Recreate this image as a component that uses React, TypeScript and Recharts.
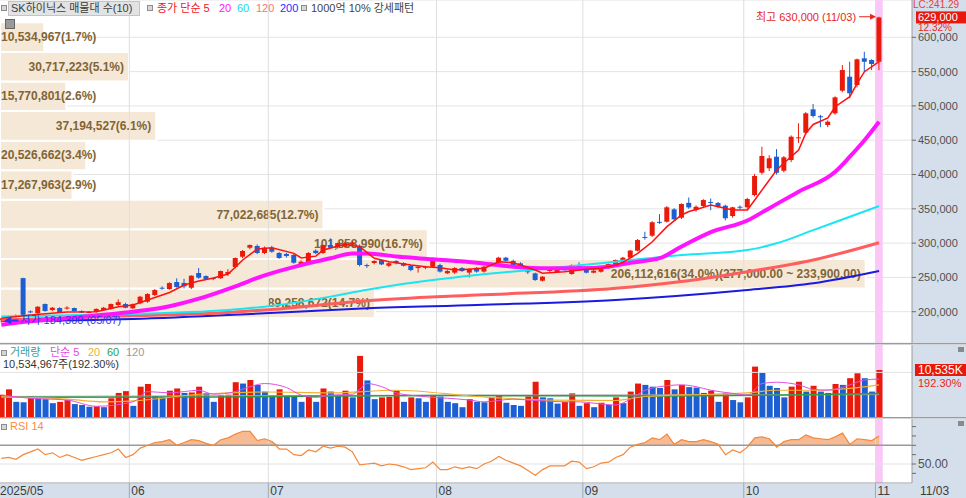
import React from "react";
import {
  ComposedChart,
  Bar,
  Line,
  Area,
  XAxis,
  YAxis,
  CartesianGrid,
  ReferenceLine,
  ReferenceArea,
  ReferenceDot,
  Cell,
} from "recharts";

// daily candles 2025/05/07 .. 2025/11/03, prices in 1,000 KRW
const opens = [
  188, 190, 193, 249, 200.5, 197.7, 211.2, 202.5, 205.4, 205,
  205.4, 201, 199, 199.6, 202.5, 204, 209.8, 211.2, 205, 212.3,
  214.6, 224.3, 235, 233, 243.3, 242, 235, 256.4, 252, 249,
  248.8, 255, 265.2, 280.2, 293.3, 295.8, 285.6, 293.3, 285.6, 284.2,
  282.7, 268, 272.5, 289, 285.6, 297.2, 294, 295, 298, 296.2,
  268, 271, 275, 267, 274, 271, 267, 263.7, 264.5, 265.6,
  268.1, 256, 257, 263.7, 257, 264, 258.5, 268, 272, 278.8,
  274, 270.5, 259, 255.9, 245.2, 260, 257.9, 262, 255, 267,
  261.8, 256.9, 258.3, 264.7, 268.1, 272, 278.8, 289, 309, 310.8,
  331, 331.2, 349.3, 337, 358.7, 348.2, 354.1, 360, 358.5, 354.5,
  339.5, 353, 352.2, 370.1, 402.6, 409.1, 426, 405.5, 421.1, 453,
  460.9, 495, 485, 472.2, 489.2, 522.2, 542.6, 530.5, 569.4, 566.9,
  564.4,
];
const highs = [
  191, 194, 196, 249.5, 202, 208, 212, 207, 206.5, 208,
  206, 202, 201, 205, 207, 212, 218, 213, 212, 223,
  227, 233, 237, 243, 248.7, 248, 253, 263.7, 253, 250,
  260, 262, 279, 290, 298, 298, 295, 296, 287, 286,
  284, 275, 287, 291, 298, 307, 301, 302, 303, 298,
  270, 275, 276, 272, 275, 272, 268, 266, 267, 276,
  270, 261, 265, 265, 263, 265, 267, 272, 280, 280,
  276, 272, 262, 257, 252, 262, 263, 263, 269, 272,
  263, 261, 266, 270, 276, 280, 290, 306, 316.6, 332,
  342.4, 354, 351, 358, 366.5, 355, 364, 365, 360, 356,
  353, 355, 366, 401, 440.5, 428, 437, 427, 457, 474.8,
  491, 502.8, 487, 479, 514, 559.6, 564.4, 569, 579, 568,
  630,
];
const lows = [
  184.3, 189, 192, 194, 198, 197, 200, 201, 199, 203,
  200, 198, 198, 199, 202, 203, 208, 205, 204, 211,
  213, 223, 232, 232, 235, 234, 233, 248, 246, 246,
  248, 252, 263, 278, 291, 284, 284, 286, 277, 279,
  270, 266, 271, 284, 284, 292, 292, 293, 296, 266,
  264, 269, 268, 265, 269, 266, 259, 257, 262, 264,
  257, 255, 255, 258, 250, 257, 257, 266, 271, 273,
  267, 262, 255, 245, 244, 258, 257, 260, 254, 264,
  256, 256, 257, 263, 267, 271, 278, 288, 305, 309,
  328, 330, 333, 335, 350, 346, 352, 348, 351, 333,
  337, 349, 350, 368, 400, 405, 400, 403, 418, 446,
  458, 483, 469, 469, 487, 520, 511, 527, 550, 552.3,
  552,
];
const closes = [
  190, 193, 194, 195.5, 199.5, 207.3, 201, 205.8, 199.6, 206,
  201, 198.6, 199.6, 204, 205.8, 211.2, 214, 205.8, 211, 221.9,
  225.8, 231.6, 234, 241.8, 236, 237, 252.5, 249.6, 247.7, 248,
  259.3, 258, 278.3, 288.5, 297.2, 285.6, 293.3, 287.5, 278.3, 281.3,
  271.4, 272.9, 285.6, 285.5, 297.2, 294.3, 300, 300, 301, 268.1,
  266.5, 273.9, 269, 270.7, 271, 267, 260.8, 265.6, 265.6, 274,
  258.5, 259.3, 263.7, 259.3, 262.3, 258.5, 265.6, 269.5, 278.8, 274.3,
  268.1, 263.3, 258.3, 246.2, 251.1, 260.8, 261.8, 261.5, 268.1, 266.6,
  256.9, 259.8, 264.7, 269.5, 275.4, 278.8, 289.1, 304.5, 307.9, 330.4,
  330.4, 352.2, 334.7, 357, 352, 353, 362.8, 358.9, 353.1, 336.2,
  352.2, 352.2, 364.3, 397.8, 427, 423.6, 402.6, 425, 455.1, 454.2,
  489.2, 485.3, 483.4, 477, 512.5, 552.3, 518.4, 567.9, 564.4, 561.1,
  629,
];
// volume, million shares
const volumes = [
  5.0, 6.2, 3.4, 3.3, 4.7, 4.2, 4.0, 3.1, 3.4, 3.8,
  2.9, 2.7, 2.3, 2.4, 2.2, 4.2, 5.4, 5.8, 2.5, 6.8,
  7.4, 4.7, 4.6, 5.9, 6.4, 5.4, 5.5, 6.8, 5.4, 3.4,
  4.9, 5.0, 7.8, 7.5, 8.3, 7.2, 5.7, 4.9, 6.2, 4.9,
  4.8, 3.4, 4.7, 3.4, 6.4, 5.7, 4.7, 5.9, 4.4, 13.7,
  8.2, 4.0, 4.4, 4.5, 5.9, 3.4, 4.4, 4.2, 3.4, 4.7,
  4.6, 3.4, 3.1, 2.2, 4.0, 3.4, 3.3, 4.4, 4.7, 3.2,
  2.7, 2.5, 4.6, 7.9, 4.4, 4.2, 3.0, 3.4, 5.3, 2.5,
  3.1, 2.2, 3.2, 2.7, 4.4, 3.1, 5.7, 7.5, 7.2, 6.8,
  6.5, 8.3, 6.2, 7.2, 6.7, 6.6, 5.4, 5.9, 3.4, 5.4,
  3.8, 3.3, 4.4, 11.3, 9.9, 7.0, 6.5, 4.4, 6.8, 7.9,
  5.7, 7.0, 5.7, 5.4, 7.4, 7.2, 8.7, 9.8, 8.7, 5.7,
  10.535,
];
const rsi14 = [
  56, 57, 55, 60, 63, 66, 60, 62, 57, 60,
  57, 54, 56, 58, 60, 62, 66, 57, 60, 67,
  70, 73, 74, 76, 70, 73, 76, 75, 72, 70,
  76, 78, 82, 85, 85, 75, 77, 74, 66, 66,
  60, 59, 65, 63, 69, 67, 69, 68, 63, 49,
  50, 51, 48, 50, 49, 47, 44, 45, 46, 52,
  44, 44, 47, 45, 47, 45, 50, 53, 58, 54,
  51, 48, 43, 38, 44, 48, 48, 48, 53, 52,
  45, 47, 51, 52, 57, 60, 68, 71, 73, 78,
  76, 82, 71, 76, 74, 74, 76, 74, 71, 60,
  65, 62, 68, 78, 79, 77, 68, 74, 76, 76,
  81, 78, 77, 76, 79, 83, 71, 77, 76, 75,
  80,
];

// moving averages: [candle index, value]
const ma5Pts = [
  [0, 190.4], [4, 195.2], [9, 199.6], [13, 200], [16, 207.3], [18, 209.8], [20, 217],
  [23, 228], [25, 238.9], [27, 244.8], [29, 249.1], [31, 255], [33, 275.4], [35, 291.4],
  [37, 293.3], [40, 285.1], [41, 278.3], [43, 281], [44, 290], [47, 298.3], [49, 294.8],
  [51, 277.8], [53, 272.9], [56, 268.1], [58, 265.6], [60, 264.2], [62, 260.8], [66, 263.3],
  [68, 272.9], [70, 271.4], [73, 260.8], [74, 256], [77, 258.3], [80, 261.8], [82, 263.3],
  [84, 268], [85, 272], [87, 285], [89, 302], [91, 324], [93, 341], [94, 346], [95, 349],
  [97, 355.5], [100, 348.3], [102, 348.3], [103, 362.8], [105, 392], [106, 406.6],
  [107, 416.8], [109, 435.8], [110, 460.5], [111, 473], [113, 482.4], [114, 498.8],
  [116, 513.4], [117, 532.9], [118, 549.9], [120, 564.4],
];
const ma20Pts = [
  [0, 181], [4, 186], [9, 190.5], [14, 195.5], [18, 200], [23, 208], [27, 219], [32, 237],
  [36, 253], [41, 268], [45, 278], [48, 285], [50, 285], [54, 280.5], [59, 276.4],
  [65, 271.4], [70, 265.6], [75, 263.3], [79, 263.3], [83, 265.6], [86, 271.4], [90, 278],
  [93, 295], [97, 316], [102, 333], [105, 351], [109, 375], [114, 404], [116, 426],
  [118, 450], [120, 477],
];
const ma60Pts = [
  [0, 193], [15, 196], [31, 202.5], [36, 207.3], [45, 222], [50, 232], [54, 239],
  [65, 253.5], [75, 263.3], [84, 273], [93, 282.7], [102, 290], [106, 299.7], [111, 319],
  [116, 338.5], [120, 354],
];
const ma120Pts = [
  [0, 188], [18, 194], [31, 199], [36, 202.5], [50, 216], [65, 224.3], [84, 234.1],
  [93, 244], [102, 258.3], [111, 275.4], [120, 300.6],
];
const ma200Pts = [
  [0, 186.4], [18, 189.4], [36, 197.7], [50, 205], [65, 209.8], [84, 217.1], [102, 231.6],
  [111, 241.4], [120, 259.3],
];
const volMa5Pts = [
  [0, 4.9], [4, 4.2], [9, 3.8], [13, 2.4], [18, 3.4], [20, 5.7], [23, 5.4], [25, 5.7],
  [27, 6.0], [29, 5.1], [32, 5.7], [34, 6.8], [36, 7.5], [39, 6.6], [41, 4.9], [43, 4.4],
  [45, 4.9], [48, 5.1], [49, 6.2], [50, 7.5], [52, 6.8], [54, 5.4], [57, 4.7], [59, 4.4],
  [61, 4.2], [64, 3.8], [66, 3.4], [70, 4.0], [73, 3.7], [77, 3.4], [79, 3.4], [81, 3.1],
  [84, 2.7], [86, 4.0], [88, 6.0], [90, 6.8], [93, 7.2], [95, 6.8], [97, 6.0], [100, 5.3],
  [102, 4.9], [104, 7.5], [106, 7.8], [109, 7.2], [111, 6.2], [113, 6.0], [116, 7.2],
  [118, 8.3], [120, 8.5],
];
const volMa20Pts = [
  [0, 4.5], [9, 4.0], [14, 3.4], [18, 3.6], [27, 5.1], [36, 5.6], [45, 5.4], [54, 6.0],
  [65, 4.6], [75, 3.8], [84, 3.7], [88, 4.6], [97, 5.1], [102, 5.4], [106, 6.0], [111, 6.0],
  [116, 6.4], [120, 7.2],
];
const volMa60Pts = [[0, 4.4], [30, 4.5], [60, 4.8], [90, 4.7], [105, 4.9], [120, 5.3]];
const volMa120Pts = [[0, 4.6], [60, 4.9], [120, 5.0]];

// month boundaries (between candles) and their labels
const monthStarts = [-0.18, 17.5, 36.5, 59.5, 79.5, 101.5, 119.5];
const monthLabels = ["2025/05", "06", "07", "08", "09", "10", "11"];

// volume profile (10 price bands)
const profileEdges = [190.8, 233.9, 277.0, 320.1, 363.2, 406.3, 449.4, 492.5, 535.6, 578.7, 621.8];
const profileVolumes = [
  89258672, 206112616, 101858990, 77022685, 17267963, 20526662, 37194527, 15770801,
  30717223, 10534967,
];
const profilePct = ["14.7", "34.0", "16.7", "12.7", "2.9", "3.4", "6.1", "2.6", "5.1", "1.7"];
const PROFILE_FULL = 217.14e6; // profile volume that would span the whole plot width

const priceTicks = [200, 250, 300, 350, 400, 450, 500, 550, 600];

const RED = "#ea1a0b";
const BLUE = "#1c5fd2";
const PINK = "#f9c8f6";
const FONT = "'Liberation Sans', 'Noto Sans CJK KR', sans-serif";
const X_DOMAIN: [number, number] = [-0.18, 124.5];
const ZERO = { top: 0, right: 0, bottom: 0, left: 0 };

const rows: any[] = opens.map((o, i) => ({
  i,
  range: [lows[i], highs[i]],
  open: o,
  high: highs[i],
  low: lows[i],
  close: closes[i],
  vol: volumes[i],
  volUp: i === 0 || volumes[i] >= volumes[i - 1],
  rsi: rsi14[i],
  rsiHot: Math.max(rsi14[i], 70),
}));
const put = (pts: number[][], key: string) => pts.forEach(([i, v]) => (rows[i][key] = v));
put(ma5Pts, "ma5");
put(ma20Pts, "ma20");
put(ma60Pts, "ma60");
put(ma120Pts, "ma120");
put(ma200Pts, "ma200");
put(volMa5Pts, "vma5");
put(volMa20Pts, "vma20");
put(volMa60Pts, "vma60");
put(volMa120Pts, "vma120");

const fmt = (n: number) => n.toLocaleString("en-US");
// profile volume -> position on the candle index axis
const profileX = (v: number) => X_DOMAIN[0] + (v / PROFILE_FULL) * (X_DOMAIN[1] - X_DOMAIN[0]);

const Candle = (props: any) => {
  const { x, y, width, height, payload } = props;
  if (!payload) return null;
  const { open, close, high, low } = payload;
  const top = Math.min(y, y + height);
  const h = Math.abs(height);
  const py = (v: number) => top + ((high - v) / (high - low)) * h;
  const color = close >= open ? RED : BLUE;
  const cx = x + width / 2;
  const bTop = py(Math.max(open, close));
  const bBot = py(Math.min(open, close));
  return (
    <g>
      <line x1={cx} x2={cx} y1={top} y2={top + h} stroke={color} strokeWidth={1} />
      <rect x={x} y={bTop} width={width} height={Math.max(1, bBot - bTop)} fill={color} />
    </g>
  );
};

const textWidth = (s: string) => {
  let w = 0;
  for (const ch of s) {
    if (ch >= "0" && ch <= "9") w += 6.67;
    else if (ch === "," || ch === "." || ch === " ") w += 3.33;
    else if (ch === "(" || ch === ")") w += 4;
    else if (ch === "%") w += 10.67;
    else w += 7;
  }
  return w;
};

const ProfileLabel = (props: any) => {
  const { viewBox, text } = props;
  if (!viewBox) return null;
  const { x, y, width, height } = viewBox;
  const right = Math.max(x + width - 5, x + 1 + textWidth(text));
  return (
    <text
      x={right}
      y={y + height / 2 + 4}
      textAnchor="end"
      fontSize={12}
      fontWeight="bold"
      fill="#806536"
    >
      {text}
    </text>
  );
};

const HighMark = (props: any) => {
  const { cx, cy } = props;
  return (
    <g>
      <text x={cx - 23} y={cy + 4} textAnchor="end" fontSize={11} fill="#e8261b">
        최고 630,000 (11/03)
      </text>
      <line x1={cx - 20} x2={cx - 7} y1={cy} y2={cy} stroke="#e8261b" strokeWidth={1} />
      <polygon points={`${cx - 3},${cy} ${cx - 9},${cy - 3} ${cx - 9},${cy + 3}`} fill="#e8261b" />
    </g>
  );
};

const LowMark = (props: any) => {
  const { cx, cy } = props;
  const ay = cy - 2;
  return (
    <g>
      <polygon points={`${cx + 3},${ay} ${cx + 10},${ay - 4} ${cx + 10},${ay + 4}`} fill="#3434ee" />
      <line x1={cx + 10} x2={cx + 17} y1={ay} y2={ay} stroke="#3434ee" strokeWidth={2} />
      <text x={cx + 19} y={cy + 2} fontSize={11} fill="#3434ee">
        저가 184,300 (05/07)
      </text>
    </g>
  );
};

const PriceTag = (props: any) => {
  const { viewBox } = props;
  if (!viewBox) return null;
  const x = viewBox.x + viewBox.width;
  const y = viewBox.y;
  return (
    <g>
      <rect x={x + 4} y={y - 6} width={50} height={12} fill="#e8180c" />
      <text x={x + 6} y={y + 4} fontSize={11} fill="#ffffff">629,000</text>
      <text x={x + 6} y={y + 14} fontSize={10} fill="#e8261b">12.32%</text>
    </g>
  );
};

const VolTag = (props: any) => {
  const { viewBox } = props;
  if (!viewBox) return null;
  const x = viewBox.x + viewBox.width;
  const y = viewBox.y;
  return (
    <g>
      <rect x={x + 3} y={y - 6} width={51} height={12} fill="#e8180c" />
      <text x={x + 6} y={y + 4} fontSize={12} fill="#ffffff">10,535K</text>
      <text x={x + 6} y={y + 17} fontSize={11} fill="#e8261b">192.30%</text>
    </g>
  );
};

const MonthTick = (props: any) => {
  const { x, y, payload } = props;
  const k = monthStarts.indexOf(payload.value);
  return (
    <g>
      {k > 0 && <line x1={x} x2={x} y1={y} y2={y + 15} stroke="#9fa9b5" />}
      <text x={k === 0 ? 0 : x + 2} y={y + 12} fontSize={12} fill="#3c3c3c">
        {monthLabels[k] ?? ""}
      </text>
    </g>
  );
};

const RsiTick = (props: any) => {
  const { x, y, payload } = props;
  if (payload.value !== 50) return <g />;
  return (
    <text x={x} y={y + 4} fontSize={12} fill="#505050">
      50.00
    </text>
  );
};

const monthLines = (id: string) =>
  monthStarts.slice(1).map((m) => (
    <ReferenceLine key={`${id}-${m}`} x={m} stroke="#dedede" strokeWidth={1} />
  ));

const maLine = (key: string, color: string, width: number, type: any = "monotone") => (
  <Line
    key={key}
    dataKey={key}
    stroke={color}
    strokeWidth={width}
    type={type}
    dot={false}
    activeDot={false}
    connectNulls
    isAnimationActive={false}
  />
);

const Square = ({ left, top }: { left: number; top: number }) => (
  <div
    style={{
      position: "absolute",
      left,
      top,
      width: 4,
      height: 4,
      border: "1px solid #8c8c8c",
      background: "#d6d6d6",
    }}
  />
);

const Txt = ({ left, top, color, children, size = 11 }: any) => (
  <div
    style={{
      position: "absolute",
      left,
      top,
      color,
      fontSize: size,
      lineHeight: `${size + 2}px`,
      whiteSpace: "nowrap",
    }}
  >
    {children}
  </div>
);

export default function App() {
  return (
    <div
      style={{
        position: "absolute",
        left: 0,
        top: 0,
        width: 966,
        height: 498,
        background: "#ffffff",
        fontFamily: FONT,
        overflow: "hidden",
      }}
    >
      {/* right scale column and date strip */}
      <div style={{ position: "absolute", left: 912, top: 0, width: 54, height: 484, background: "#d5dfeb" }} />
      <div style={{ position: "absolute", left: 0, top: 484, width: 966, height: 14, background: "#d5dfeb" }} />

      {/* price panel */}
      <div style={{ position: "absolute", left: 0, top: 0 }}>
        <ComposedChart width={966} height={343} data={rows} margin={ZERO}>
          <XAxis dataKey="i" type="number" domain={X_DOMAIN} allowDataOverflow hide />
          <YAxis
            orientation="right"
            width={54}
            domain={[154.4, 654.4]}
            allowDataOverflow
            ticks={priceTicks}
            interval={0}
            tickFormatter={(v: number) => fmt(v * 1000)}
            tick={{ fill: "#505050", fontSize: 11 }}
            tickSize={4}
            tickMargin={2}
            tickLine={{ stroke: "#6a6a6a" }}
            axisLine={{ stroke: "#9a9a9a" }}
          />
          <CartesianGrid vertical={false} stroke="#e4e4e4" />
          {monthLines("p")}
          {profileVolumes.map((v, k) => (
            <ReferenceArea
              key={`vp${k}`}
              x1={X_DOMAIN[0]}
              x2={profileX(v)}
              y1={profileEdges[k]}
              y2={profileEdges[k + 1]}
              fill="#f6e8d6"
              fillOpacity={1}
              stroke="#ffffff"
              strokeWidth={2}
              ifOverflow="extendDomain"
              label={
                <ProfileLabel
                  text={
                    `${fmt(v)}(${profilePct[k]}%)` +
                    (k === 1
                      ? `(${fmt(profileEdges[2] * 1000)}.00 ~ ${fmt(profileEdges[1] * 1000)}.00)`
                      : "")
                  }
                />
              }
            />
          ))}
          <ReferenceArea x1={119.5} x2={120.5} fill={PINK} fillOpacity={1} stroke="none" />
          <ReferenceDot x={0} y={184.3} r={0} shape={<LowMark />} />
          {maLine("ma200", "#1a1ae0", 2)}
          {maLine("ma120", "#ff5e5e", 3)}
          {maLine("ma60", "#19e6f2", 2)}
          {maLine("ma20", "#ff14ff", 4)}
          <Bar dataKey="range" barSize={5} shape={<Candle />} isAnimationActive={false} />
          {maLine("ma5", "#ff1010", 1.5, "linear")}
          <ReferenceDot x={120} y={630} r={0} shape={<HighMark />} />
          <ReferenceLine y={629} stroke="none" label={<PriceTag />} />
        </ComposedChart>
      </div>
      <div style={{ position: "absolute", left: 0, top: 343, width: 966, height: 1, background: "#9c9c9c" }} />
      <div style={{ position: "absolute", left: 0, top: 344, width: 966, height: 1, background: "#d4d4d4" }} />

      {/* volume panel */}
      <div style={{ position: "absolute", left: 0, top: 345 }}>
        <ComposedChart width={966} height={72} data={rows} margin={ZERO}>
          <XAxis dataKey="i" type="number" domain={X_DOMAIN} allowDataOverflow hide />
          <YAxis
            orientation="right"
            width={54}
            domain={[0, 16.14]}
            allowDataOverflow
            ticks={[2, 4, 6, 8, 10, 12, 14, 16]}
            interval={0}
            tick={false}
            tickSize={3}
            tickLine={{ stroke: "#8a8a8a" }}
            axisLine={{ stroke: "#9a9a9a" }}
          />
          {monthLines("v")}
          <ReferenceLine y={10} stroke="#e2e2e2" />
          <ReferenceArea x1={119.5} x2={120.5} fill={PINK} fillOpacity={1} stroke="none" />
          <Bar dataKey="vol" barSize={6} isAnimationActive={false}>
            {rows.map((r) => (
              <Cell key={`c${r.i}`} fill={r.volUp ? RED : BLUE} />
            ))}
          </Bar>
          {maLine("vma120", "#a6a6a6", 1)}
          {maLine("vma60", "#2f9c45", 1.5)}
          {maLine("vma20", "#f1b232", 1.2)}
          {maLine("vma5", "#e24fe2", 1)}
          <ReferenceLine y={10.535} stroke="none" label={<VolTag />} />
        </ComposedChart>
      </div>
      <div style={{ position: "absolute", left: 0, top: 417, width: 966, height: 1, background: "#9c9c9c" }} />
      <div style={{ position: "absolute", left: 0, top: 418, width: 966, height: 1, background: "#d4d4d4" }} />

      {/* RSI panel with date axis */}
      <div style={{ position: "absolute", left: 0, top: 419 }}>
        <ComposedChart width={966} height={79} data={rows} margin={ZERO}>
          <XAxis
            dataKey="i"
            type="number"
            domain={X_DOMAIN}
            allowDataOverflow
            ticks={monthStarts}
            interval={0}
            tick={<MonthTick />}
            tickSize={0}
            tickMargin={0}
            tickLine={false}
            axisLine={{ stroke: "#9c9c9c" }}
            height={15}
          />
          <YAxis
            orientation="right"
            width={54}
            domain={[29.68, 98.13]}
            allowDataOverflow
            ticks={[40, 50, 60, 70, 80, 90]}
            interval={0}
            tick={<RsiTick />}
            tickSize={4}
            tickMargin={2}
            tickLine={{ stroke: "#6a6a6a" }}
            axisLine={{ stroke: "#9a9a9a" }}
          />
          {monthLines("r")}
          <ReferenceLine y={50} stroke="#e2e2e2" />
          <ReferenceArea x1={119.5} x2={120.5} fill={PINK} fillOpacity={1} stroke="none" />
          <Area
            dataKey="rsiHot"
            baseValue={70}
            type="linear"
            stroke="none"
            fill="#f7ba93"
            fillOpacity={1}
            isAnimationActive={false}
          />
          <ReferenceLine y={70} stroke="#9a9a9a" strokeWidth={1.5} />
          {maLine("rsi", "#f5883a", 1.2, "linear")}
        </ComposedChart>
      </div>

      {/* legends and labels */}
      <Square left={1} top={5} />
      <div
        style={{
          position: "absolute",
          left: 8,
          top: 1,
          width: 130,
          height: 13,
          background: "#e3e3e3",
          border: "1px solid #c4c4c4",
        }}
      />
      <Txt left={11} top={2} color="#3b3b3b">SK하이닉스 매물대 수(10)</Txt>
      <Square left={147} top={5} />
      <Txt left={157} top={2} color="#f01818">종가 단순 5</Txt>
      <Txt left={219} top={2} color="#ff14ff">20</Txt>
      <Txt left={237} top={2} color="#16d8ee">60</Txt>
      <Txt left={256} top={2} color="#ff7272">120</Txt>
      <Txt left={280} top={2} color="#2a2aff">200</Txt>
      <Square left={301} top={5} />
      <Txt left={311} top={2} color="#444444">1000억 10% 강세패턴</Txt>
      <div
        style={{
          position: "absolute",
          left: 5,
          top: 19,
          width: 8,
          height: 8,
          background: "#9a9a9a",
          border: "1px solid #666666",
        }}
      />
      <Txt left={913} top={-1} color="#e84040" size={10}>LC:241.29</Txt>

      <Square left={1} top={350} />
      <Txt left={10} top={346} color="#3a9e9e">거래량</Txt>
      <Txt left={50} top={346} color="#e14de1">단순 5</Txt>
      <Txt left={88} top={346} color="#f0b030">20</Txt>
      <Txt left={107} top={346} color="#2e9e46">60</Txt>
      <Txt left={126} top={346} color="#9a9a9a">120</Txt>
      <Txt left={3} top={358} color="#333333">10,534,967주(192.30%)</Txt>

      <Square left={1} top={424} />
      <Txt left={10} top={420} color="#ff8a40">RSI 14</Txt>

      <Txt left={920} top={484} color="#3c3c3c" size={12}>11/03</Txt>
      <div style={{ position: "absolute", left: 958, top: 347, width: 6, height: 5, background: "#8a8a8a" }} />
      <div style={{ position: "absolute", left: 958, top: 421, width: 6, height: 5, background: "#8a8a8a" }} />
    </div>
  );
}
